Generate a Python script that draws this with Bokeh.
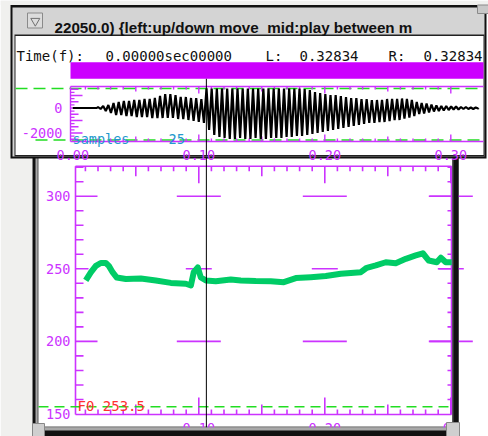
import numpy as np
from bokeh.plotting import figure
from bokeh.models import Range1d
from bokeh.core.properties import value
from bokeh.embed import file_html
from bokeh.resources import INLINE

# ------------------------------------------------------------------ data
title_text = "22050.0) {left:up/down move\u00a0\u00a0mid:play between m"
info_label = "Time(f):"
info_time = "0.00000sec00000"
info_L = "0.32834"
info_R = "0.32834"
cursor_t = 0.106
f0_readout = "F0 253.5"
f0_floor = 155

time_tick_vals = [0.0, 0.1, 0.2, 0.3]
time_tick_labels = ["0.00", "0.10", "0.20", "0.30"]
f0_tick_vals = [150, 200, 250, 300]
f0_tick_labels = ["150", "200", "250", "300"]
amp_tick_vals = [0, -2000]
amp_tick_labels = ["0", "-2000"]

# F0 contour (seconds, Hz)
f0_t = [0.0103, 0.0143, 0.0183, 0.0222, 0.0262, 0.0286, 0.0317, 0.0349, 0.0421, 0.0540,
        0.0659, 0.0778, 0.0897, 0.0937, 0.0960, 0.0992, 0.1016, 0.1056, 0.1135, 0.1254,
        0.1333, 0.1452, 0.1571, 0.1675, 0.1770, 0.1889, 0.2008, 0.2127, 0.2286, 0.2333,
        0.2405, 0.2484, 0.2563, 0.2643, 0.2722, 0.2778, 0.2825, 0.2889, 0.2921, 0.2960,
        0.3008]
f0_hz = [242, 247.5, 252, 254, 254, 252, 247.5, 244, 243, 243.3,
         242, 240.3, 239.7, 238.5, 247.7, 251, 244, 242, 241.5, 242.6,
         242, 241.6, 241.5, 240.8, 243.6, 244.2, 245, 246.6, 247.7, 250.7,
         252.3, 254.5, 253.9, 256.9, 259.2, 260.7, 255.7, 254.5, 257.6, 254.5,
         254.5]

# waveform: one entry per pitch period (ms, peak, trough)
wave_t_ms = [19.0, 23.1, 27.2, 31.3, 35.4, 39.5, 43.6, 47.7, 51.8, 55.9,
             60.0, 64.1, 68.2, 72.3, 76.4, 80.5, 84.6, 88.7, 92.8, 96.9,
             101.0, 105.1, 109.2, 113.3, 117.4, 121.5, 125.6, 129.7, 133.8, 137.9,
             142.0, 146.1, 150.2, 154.3, 158.4, 162.5, 166.6, 170.7, 174.8, 178.9,
             183.0, 187.1, 191.2, 195.3, 199.4, 203.5, 207.6, 211.7, 215.8, 219.9,
             224.0, 228.1, 232.2, 236.3, 240.4, 244.4, 248.4, 252.4, 256.4, 260.3,
             264.2, 268.1, 272.0, 275.9, 279.8, 283.7, 287.6, 291.5, 295.4, 299.3,
             303.2, 307.1, 311.0, 314.9, 318.8]
wave_max = [80, 160, 240, 400, 480, 560, 560, 640, 640, 720,
            720, 800, 960, 1120, 1120, 1040, 880, 880, 800, 800,
            720, 1560, 1560, 1560, 1560, 1560, 1560, 1560, 1560, 1560,
            1560, 1560, 1560, 1560, 1560, 1560, 1560, 1560, 1560, 1560,
            1520, 1440, 1280, 1200, 1120, 1040, 1040, 960, 880, 800,
            800, 720, 720, 640, 640, 640, 720, 720, 720, 760,
            720, 640, 480, 400, 360, 280, 200, 160, 160, 120,
            120, 80, 80, 40, 40]
wave_min = [-80, -240, -400, -560, -560, -640, -640, -720, -720, -720,
            -800, -800, -800, -800, -800, -880, -880, -960, -1040, -1120,
            -1200, -1760, -2160, -2320, -2400, -2480, -2480, -2400, -2480, -2480,
            -2400, -2480, -2480, -2400, -2400, -2400, -2320, -2320, -2240, -2240,
            -2160, -2080, -2000, -1920, -1840, -1760, -1680, -1600, -1520, -1440,
            -1360, -1280, -1200, -1200, -1120, -1120, -1040, -960, -960, -840,
            -760, -640, -480, -440, -360, -280, -240, -200, -160, -120,
            -120, -80, -80, -80, -40]
wave_end_t = 0.322

# ------------------------------------------------------------------ styling
MAG = "#cc33ff"
BAR = "#cc00ff"
GDASH = "#22dd22"
F0G = "#00cc66"
CYAN = "#2299cc"
RED = "#ff3030"
MONO = value("DejaVu Sans Mono")

OX, OY, W, H = 0, 0, 488, 436
X0, XS = 72.3, 1260.0     # px of t=0, px per second
A0, AS = 107.5, 80.0      # waveform zero px, units per px
FY, FS = 268.3, 1.452     # px of 250 Hz, px per Hz

p = figure(width=W, height=H, x_range=Range1d(OX, OX + W), y_range=Range1d(OY + H, OY),
           x_axis_type=None, y_axis_type=None, output_backend="svg",
           toolbar_location=None, min_border=0, outline_line_color=None,
           background_fill_color="white", border_fill_color="white")
p.extra_x_ranges = {"t": Range1d((OX - X0) / XS, (OX + W - X0) / XS)}
p.extra_y_ranges = {"amp": Range1d((A0 - (OY + H)) * AS, (A0 - OY) * AS),
                    "f0": Range1d(250 + (FY - (OY + H)) / FS, 250 + (FY - OY) / FS)}


def box(x0, y0, x1, y1, color, line=None):
    p.quad(left=[x0], right=[x1], top=[y0], bottom=[y1], fill_color=color,
           line_color=line)


# background
box(0, 0, 32, 440, "#f0f0ee")
box(0, 0, 488, 4.5, "#f0f0ee")

# ---------------------------------------------------------- lower window
box(32, 150, 458, 440, "#111111")
box(35, 150, 455, 430, "#a8a8a8")
box(37, 150, 453, 427, "#555555")
box(38, 150, 452, 426, "white")

PL, PR, PT, PB = 75, 451, 165.7, 414
k = np.arange(1, 31)
tt = k / 100.0
tl = np.where(k % 10 == 0, 17, np.where(k % 5 == 0, 10, 5))
p.segment(x0=[PL, PL, PL, PR], y0=[PT, PB, PT, PT], x1=[PR, PR, PL, PR], y1=[PT, PB, PB, PB],
          line_color=MAG, line_width=1.6)
p.segment(x0=tt, x1=tt, y0=np.full(30, PT), y1=PT + tl, x_range_name="t",
          line_color=MAG, line_width=1.6)
p.segment(x0=tt, x1=tt, y0=np.full(30, PB), y1=PB - tl, x_range_name="t",
          line_color=MAG, line_width=1.6)
fv = np.array([v for v in range(160, 321, 10) if v not in (200, 250, 300)])
p.segment(x0=np.full(len(fv), PL), x1=np.full(len(fv), PL + 8), y0=fv, y1=fv,
          y_range_name="f0", line_color=MAG, line_width=1.6)
p.segment(x0=np.full(len(fv), PR), x1=np.full(len(fv), PR - 4), y0=fv, y1=fv,
          y_range_name="f0", line_color=MAG, line_width=1.6)
fm = np.array([200, 250, 300])
fl = np.array([22, 13, 22])
p.segment(x0=np.full(3, PL), x1=PL + fl, y0=fm, y1=fm, y_range_name="f0",
          line_color=MAG, line_width=1.6)
p.segment(x0=np.full(3, PR), x1=PR - fl, y0=fm, y1=fm, y_range_name="f0",
          line_color=MAG, line_width=1.6)
for fval, sz in ((200, 44), (250, 26), (300, 44)):
    p.scatter(x=time_tick_vals[1:], y=[fval] * 3, marker="dash", size=sz,
              x_range_name="t", y_range_name="f0", line_color=MAG, line_width=1.6)

p.segment(x0=[38], x1=[452], y0=[f0_floor], y1=[f0_floor], y_range_name="f0",
          line_color=GDASH, line_width=1.6, line_dash="10 6")
p.line(f0_t, f0_hz, x_range_name="t", y_range_name="f0", line_width=6,
       line_color=F0G, line_join="round")
p.text(x=[70] * 4, y=f0_tick_vals, text=f0_tick_labels, y_range_name="f0",
       text_font=MONO, text_font_size="13.5px", text_color=MAG,
       text_align="right", text_baseline="middle")
p.text(x=time_tick_vals[1:3], y=[427] * 2, text=time_tick_labels[1:3], x_range_name="t",
       text_font=MONO, text_font_size="13.5px", text_color=MAG,
       text_align="center", text_baseline="alphabetic")
p.text(x=[time_tick_vals[3]], y=[427], text=["0."], x_range_name="t",
       text_font=MONO, text_font_size="13.5px", text_color=MAG,
       text_align="center", text_baseline="alphabetic")
p.text(x=[77], y=[405.5], text=[f0_readout], text_font=MONO, text_font_size="14px",
       text_color=RED, text_align="left", text_baseline="middle")
p.segment(x0=[cursor_t], x1=[cursor_t], y0=[157], y1=[427], x_range_name="t",
          line_color="black", line_width=1)

# lower window right / bottom border
box(452, 150, 458, 440, "#111111")
box(452, 150, 453, 427, "#555555")
box(32, 427, 458, 440, "#a8a8a8")
box(32, 430, 458, 440, "#111111")
box(32, 423, 44, 440, "#cfcfcf", line="#888888")
box(446, 422, 459, 440, "#cfcfcf", line="#888888")

# ---------------------------------------------------------- upper window
box(10, 4.5, 486, 158, "#111111")
box(12, 7, 484, 156, "#d4d4d4")
box(14, 34, 484, 156, "#222222")
box(15, 35.5, 483, 154.5, "white")
box(477, 4.5, 488, 13, "#c8c8c8", line="#8a8a8a")

# title bar
box(27, 12.5, 42, 27.5, "#dcdcdc", line="#8a8a8a")
p.scatter(x=[34.8], y=[20.5], marker="inverted_triangle", size=9, fill_color=None,
          line_color="#707070", line_width=1)
p.text(x=[54], y=[26.5], text=[title_text], text_font=value("Liberation Sans"),
       text_font_style="bold", text_font_size="15.2px", text_color="#111111",
       text_align="left", text_baseline="alphabetic")
p.text(x=[16, 105, 265, 299, 388, 423], y=[55] * 6,
       text=[info_label, info_time, "L:", info_L, "R:", info_R],
       text_font=MONO, text_font_size="14px", text_color="#111111",
       text_align="left", text_baseline="alphabetic")

# magenta bar
box(70, 61.7, 483, 78.3, BAR)

# waveform frame
WT, WB, WL = 86, 141, 70
p.segment(x0=[15, 35], x1=[483, 483], y0=[88, 139.5], y1=[88, 139.5],
          line_color=GDASH, line_width=1.6, line_dash="12 6")
p.segment(x0=[WL, WL, WL], y0=[WT, WB, WT], x1=[483, 483, WL], y1=[WT, WB, WB],
          line_color=MAG, line_width=1.4)
wl = np.where(k % 10 == 0, 7, np.where(k % 5 == 0, 5, 3))
p.segment(x0=tt, x1=tt, y0=np.full(30, WT), y1=WT + wl, x_range_name="t",
          line_color=MAG, line_width=1.4)
p.segment(x0=tt, x1=tt, y0=np.full(30, WB), y1=WB - wl, x_range_name="t",
          line_color=MAG, line_width=1.4)
av = np.arange(-2500, 1501, 250)
al = np.where(av % 1000 == 0, 12, np.where(av % 500 == 0, 8, 4))
p.segment(x0=np.full(len(av), WL), x1=WL + al, y0=av, y1=av, y_range_name="amp",
          line_color=MAG, line_width=1.4)

# waveform trace
wt = np.array(wave_t_ms) / 1000.0
xs, ys = [0.0, wt[0]], [0.0, 0.0]
for i in range(len(wt)):
    step = (wt[i + 1] - wt[i]) if i + 1 < len(wt) else (wt[i] - wt[i - 1])
    xs += [wt[i] + step * 0.25, wt[i] + step * 0.75]
    ys += [wave_max[i], wave_min[i]]
xs.append(wave_end_t)
ys.append(0.0)
p.line(xs, ys, x_range_name="t", y_range_name="amp", line_color="black", line_width=2.2)

p.text(x=[62, 62], y=amp_tick_vals, text=amp_tick_labels, y_range_name="amp",
       text_font=MONO, text_font_size="13.5px", text_color=MAG,
       text_align="right", text_baseline="middle")
p.text(x=[72, 168], y=[138, 138], text=["samples", "25"], text_font=MONO,
       text_font_size="13.5px", text_color=CYAN, text_align="left",
       text_baseline="alphabetic")
p.text(x=time_tick_vals, y=[154.5] * 4, text=time_tick_labels, x_range_name="t",
       text_font=MONO, text_font_size="13.5px", text_color=MAG,
       text_align="center", text_baseline="alphabetic")
p.segment(x0=[cursor_t], x1=[cursor_t], y0=[78.3], y1=[154.5], x_range_name="t",
          line_color="black", line_width=1)

open("out.html", "w").write(file_html(p, INLINE))
